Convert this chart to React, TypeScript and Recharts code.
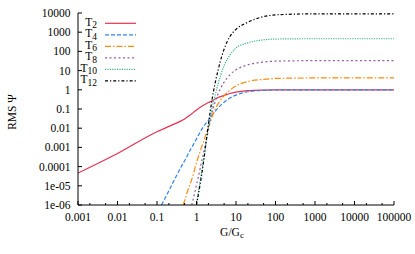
import { LineChart, Line, XAxis, YAxis, Legend } from "recharts"

const FONT = "'Liberation Serif', 'DejaVu Serif', serif"

// sample points along G/Gc (log axis)
const xValues = [0.001, 0.01, 0.1, 0.13, 0.2, 0.3, 0.46, 0.5, 0.7, 0.76, 1, 1.5, 2, 2.5, 3, 3.5, 4, 5, 7, 10, 20, 50, 100, 1000, 100000]

const t2 = [4.6e-5, 4.8e-4, 6.5e-3, 8.3e-3, 0.0124, 0.0178, 0.0275, 0.0305, 0.0497, 0.0569, 0.089, 0.155, 0.216, 0.265, 0.34, 0.39, 0.44, 0.51, 0.645, 0.76, 0.9, 0.97, 0.99, 1, 1]
const t4 = [null, null, null, 1e-6, 5.5e-6, 2.9e-5, 1.5e-4, 2e-4, 7.5e-4, 1e-3, 2.8e-3, 0.012, 0.026, 0.049, 0.078, 0.113, 0.15, 0.227, 0.37, 0.53, 0.79, 0.94, 0.98, 1, 1]
const t6 = [null, null, null, null, null, null, 1e-6, 1.7e-6, 1.4e-5, 2.2e-5, 1.6e-4, 2e-3, 0.011, 0.04, 0.1, 0.18, 0.28, 0.5, 0.95, 1.6, 2.7, 3.5, 3.9, 4.15, 4.2]
const t8 = [null, null, null, null, null, null, null, null, null, 1e-6, 1.1e-5, 5e-4, 8e-3, 0.07, 0.25, 0.6, 1.1, 2.5, 6, 11, 20, 28, 31, 33, 33]
const t10 = [null, null, null, null, null, null, null, null, null, null, 1.1e-6, 2.2e-4, 0.011, 0.12, 0.55, 2, 5, 18, 65, 150, 280, 400, 440, 457, 457]
const t12 = [null, null, null, null, null, null, null, null, null, null, 1e-6, 1.6e-4, 0.016, 0.35, 2.5, 10, 30, 130, 600, 1400, 3300, 6500, 8000, 9000, 9000]

const seriesNames = ["T2", "T4", "T6", "T8", "T10", "T12"]

const xMajorTicks = [0.001, 0.01, 0.1, 1, 10, 100, 1000, 10000, 100000]
const xTickLabels = ["0.001", "0.01", "0.1", "1", "10", "100", "1000", "10000", "100000"]
const xMinorTicks = [0.002, 0.005, 0.02, 0.05, 0.2, 0.5, 2, 5, 20, 50, 200, 500, 2000, 5000, 20000, 50000]
const yTicks = [1e-6, 1e-5, 1e-4, 1e-3, 0.01, 0.1, 1, 10, 100, 1000, 10000]
const yTickLabels = ["1e-06", "1e-05", "0.0001", "0.001", "0.01", "0.1", "1", "10", "100", "1000", "10000"]

const data = xValues.map((x, i) => ({
  x,
  t2: t2[i],
  t4: t4[i],
  t6: t6[i],
  t8: t8[i],
  t10: t10[i],
  t12: t12[i],
}))

const xAllTicks = [...xMajorTicks, ...xMinorTicks].sort((a, b) => a - b)

const sameTick = (a: number, b: number) => Math.abs(a - b) / b < 1e-9

// ticks point inward, like gnuplot
const BottomTick = ({ x, y, payload }: any) => {
  const i = xMajorTicks.findIndex((t) => sameTick(payload.value, t))
  return (
    <g>
      <line x1={x} x2={x} y1={y} y2={y - (i >= 0 ? 4 : 2)} stroke="#000" />
      {i >= 0 && (
        <text x={x} y={y + 15.7} textAnchor="middle" fontSize={11.5} fontFamily={FONT} fill="#000">
          {xTickLabels[i]}
        </text>
      )}
    </g>
  )
}

const TopTick = ({ x, y, payload }: any) => {
  const major = xMajorTicks.some((t) => sameTick(payload.value, t))
  return <line x1={x} x2={x} y1={y} y2={y + (major ? 4 : 2)} stroke="#000" />
}

const LeftTick = ({ x, y, payload }: any) => {
  const i = yTicks.findIndex((t) => sameTick(payload.value, t))
  return (
    <g>
      <line x1={x} x2={x + 4} y1={y} y2={y} stroke="#000" />
      <text x={x - 7.5} y={y + 4} textAnchor="end" fontSize={11.5} fontFamily={FONT} fill="#000">
        {yTickLabels[i]}
      </text>
    </g>
  )
}

const RightTick = ({ x, y }: any) => <line x1={x} x2={x - 4} y1={y} y2={y} stroke="#000" />

const YTitle = ({ viewBox }: any) => {
  const cx = viewBox.x + 7.5
  const cy = viewBox.y + viewBox.height / 2 + 3
  return (
    <text x={cx} y={cy} transform={`rotate(-90, ${cx}, ${cy})`} textAnchor="middle" fontSize={11.5} fontFamily={FONT} fill="#000">
      RMS Ψ
    </text>
  )
}

const XTitle = ({ viewBox }: any) => (
  <text x={viewBox.x + viewBox.width / 2 - 4} y={viewBox.y + 30.5} textAnchor="middle" fontSize={11.5} fontFamily={FONT} fill="#000">
    G/G<tspan dy={2.5} fontSize={9}>c</tspan>
  </text>
)

const KeyBox = ({ payload }: any) => {
  const items = [...(payload || [])].sort(
    (a: any, b: any) => seriesNames.indexOf(String(a.value)) - seriesNames.indexOf(String(b.value))
  )
  return (
    <svg width={62} height={76} style={{ display: "block" }}>
      {items.map((entry: any, i: number) => {
        const y = 8.3 + i * 11.5
        const sub = String(entry.value).slice(1)
        return (
          <g key={entry.value}>
            <text x={19} y={y + 2.4} textAnchor="end" fontSize={11.5} fontFamily={FONT} fill="#000">
              T<tspan dy={2.6} fontSize={9.5}>{sub}</tspan>
            </text>
            <line
              x1={27}
              x2={58}
              y1={y}
              y2={y}
              stroke={entry.color}
              strokeWidth={1.2}
              strokeDasharray={entry.payload?.strokeDasharray}
            />
          </g>
        )
      })}
    </svg>
  )
}

export default function App() {
  return (
    <div style={{ position: "absolute", left: 0, top: 0, width: 415, height: 254, background: "#fff" }}>
      <LineChart width={415} height={254} data={data} margin={{ top: 13, right: 21, bottom: 19, left: 8 }}>
        <XAxis
          dataKey="x"
          type="number"
          scale="log"
          domain={[0.001, 100000]}
          allowDataOverflow
          ticks={xAllTicks}
          interval={0}
          height={30}
          tickSize={0}
          tickMargin={0}
          tickLine={false}
          stroke="#000"
          tick={<BottomTick />}
          label={{ content: XTitle }}
        />
        <XAxis
          xAxisId="top"
          orientation="top"
          dataKey="x"
          type="number"
          scale="log"
          domain={[0.001, 100000]}
          allowDataOverflow
          ticks={xAllTicks}
          interval={0}
          height={0}
          tickSize={0}
          tickMargin={0}
          tickLine={false}
          stroke="#000"
          tick={<TopTick />}
        />
        <YAxis
          type="number"
          scale="log"
          domain={[1e-6, 10000]}
          allowDataOverflow
          ticks={yTicks}
          interval={0}
          width={70}
          tickSize={0}
          tickMargin={0}
          tickLine={false}
          stroke="#000"
          tick={<LeftTick />}
          label={{ content: YTitle }}
        />
        <YAxis
          yAxisId="right"
          orientation="right"
          type="number"
          scale="log"
          domain={[1e-6, 10000]}
          allowDataOverflow
          ticks={yTicks}
          interval={0}
          width={0}
          tickSize={0}
          tickMargin={0}
          tickLine={false}
          stroke="#000"
          tick={<RightTick />}
        />
        <Legend
          layout="vertical"
          align="center"
          verticalAlign="middle"
          wrapperStyle={{ left: 78, top: 15, width: 62 }}
          content={<KeyBox />}
        />
        <Line type="monotone" dataKey="t2" name="T2" stroke="#e63250" strokeWidth={1.2} dot={false} isAnimationActive={false} />
        <Line type="monotone" dataKey="t4" name="T4" stroke="#3282f0" strokeWidth={1.2} strokeDasharray="4 2" dot={false} isAnimationActive={false} />
        <Line type="monotone" dataKey="t6" name="T6" stroke="#ff8c14" strokeWidth={1.2} strokeDasharray="6 2 1.5 2" dot={false} isAnimationActive={false} />
        <Line type="monotone" dataKey="t8" name="T8" stroke="#965aa0" strokeWidth={1.2} strokeDasharray="2 2.5" dot={false} isAnimationActive={false} />
        <Line type="monotone" dataKey="t10" name="T10" stroke="#3cb48c" strokeWidth={1.2} strokeDasharray="1.2 1.2" dot={false} isAnimationActive={false} />
        <Line type="monotone" dataKey="t12" name="T12" stroke="#000000" strokeWidth={1.2} strokeDasharray="3 2 1.2 2" dot={false} isAnimationActive={false} />
      </LineChart>
    </div>
  )
}
